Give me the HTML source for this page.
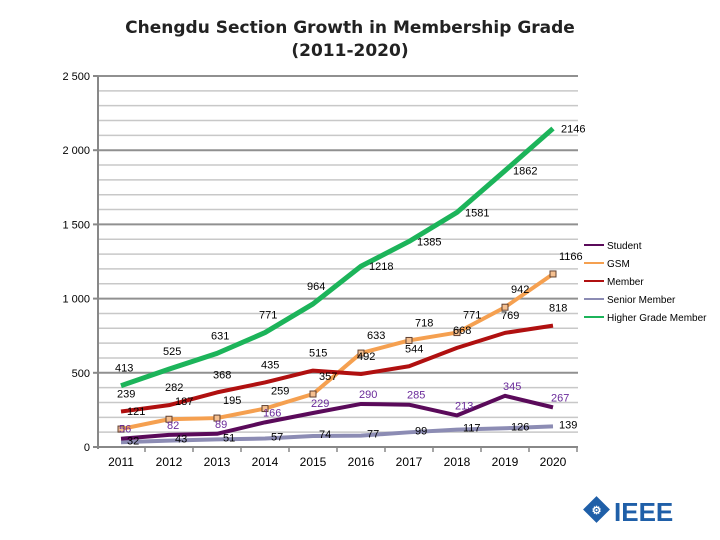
<!DOCTYPE html>
<html><head><meta charset="utf-8"><style>
body{margin:0;background:#fff;}
svg{display:block;font-family:"Liberation Sans",Arial,sans-serif;}
</style></head><body>
<svg id="c" width="720" height="540">
<text x="350" y="33" text-anchor="middle" font-family="DejaVu Sans, sans-serif" font-weight="bold" font-size="17" fill="#222">Chengdu Section Growth in Membership Grade</text>
<text x="350" y="56" text-anchor="middle" font-family="DejaVu Sans, sans-serif" font-weight="bold" font-size="17" fill="#222">(2011-2020)</text>
<g id="grid"></g><g id="lines"></g><g id="labels"></g><g id="legend"></g>
<g>
<rect x="587" y="500" width="19" height="19" transform="rotate(45 596.5 509.5)" fill="#1f5fa8"/>
<text x="596.5" y="514" text-anchor="middle" font-size="11" font-weight="bold" fill="#fff">⚙</text>
<text x="614" y="521" font-size="26" font-weight="bold" fill="#1f5fa8">IEEE</text>
</g>
</svg>
<script>
const years=["2011","2012","2013","2014","2015","2016","2017","2018","2019","2020"];
const student=[56,82,89,166,229,290,285,213,345,267];
const gsm=[121,187,195,259,357,633,718,771,942,1166];
const member=[239,282,368,435,515,492,544,668,769,818];
const senior=[32,43,51,57,74,77,99,117,126,139];
const higher=[413,525,631,771,964,1218,1385,1581,1862,2146];
const yTicks=[0,500,1000,1500,2000,2500];
const yTickLabels=["0","500","1 000","1 500","2 000","2 500"];
const NS="http://www.w3.org/2000/svg";
const X0=121,DX=48,Y0=447,YS=(447-76)/2500;
const xs=i=>X0+i*DX, ys=v=>Y0-v*YS;
function el(t,a,p){const e=document.createElementNS(NS,t);for(const k in a)e.setAttribute(k,a[k]);p.appendChild(e);return e;}
const grid=document.getElementById('grid');
for(let v=100;v<=2500;v+=100){
 const g=el('line',{x1:98,x2:578,y1:ys(v),y2:ys(v),stroke:v%500?'#c8c8c8':'#909090','stroke-width':v%500?1.5:2},grid);
 
 
}
yTicks.forEach((v,i)=>{
 const t=el('line',{x1:93,x2:98,y1:ys(v),y2:ys(v),stroke:'#888','stroke-width':2},grid);
 
 
 const l=el('text',{x:90,y:ys(v)+4,'text-anchor':'end','font-size':11,fill:'#000'},grid);l.textContent=yTickLabels[i];
 
 
});
const ax=el('line',{x1:98,x2:98,y1:76,y2:449,stroke:'#888','stroke-width':2},grid);


const bx=el('line',{x1:98,x2:578,y1:Y0,y2:Y0,stroke:'#888','stroke-width':2},grid);


years.forEach((y,i)=>{
 const t=el('line',{x1:xs(i)+24,x2:xs(i)+24,y1:Y0,y2:Y0+5,stroke:'#888','stroke-width':1.5},grid);
 
 
 const l=el('text',{x:xs(i),y:466,'text-anchor':'middle','font-size':12,fill:'#000'},grid);l.textContent=y;
 
 
});
const series=[
 {name:'senior',lab:'Senior Member',d:senior,c:'#8c8cb4',w:4,lc:'#000',dx:6,dy:2},
 {name:'student',lab:'Student',d:student,c:'#5a0a5a',w:4,lc:'#6a2a9a',dx:-2,dy:-6},
 {name:'gsm',lab:'GSM',d:gsm,c:'#f5a050',w:4,lc:'#000',dx:6,dy:-14},
 {name:'member',lab:'Member',d:member,c:'#b01010',w:4,lc:'#000',dx:-4,dy:-14},
 {name:'higher',lab:'Higher Grade Member',d:higher,c:'#1cb45a',w:5,lc:'#000',dx:8,dy:4}];
const lines=document.getElementById('lines'),labels=document.getElementById('labels');
series.forEach(s=>{
 const p=el('polyline',{points:s.d.map((v,i)=>xs(i)+','+ys(v)).join(' '),fill:'none',stroke:s.c,'stroke-width':s.w,'stroke-linejoin':'round'},lines);
 
 
 s.d.forEach((v,i)=>{
  if(s.name==='gsm'){const m=el('rect',{x:xs(i)-3,y:ys(v)-3,width:6,height:6,fill:'#f5c090',stroke:'#604030'},lines);
   
   }
  let dx=s.dx,dy=s.dy;
  if(s.name==='higher'&&i<5){dx=-6;dy=-14;}
  const t=el('text',{x:xs(i)+dx,y:ys(v)+dy,'font-size':11,fill:s.lc},labels);t.textContent=v;
  
  
 });
});
const lg=document.getElementById('legend');
const order=['student','gsm','member','senior','higher'];
order.forEach((n,i)=>{
 const s=series.find(q=>q.name===n);const y=245+i*18;
 const l=el('line',{x1:584,x2:604,y1:y,y2:y,stroke:s.c,'stroke-width':2},lg);
 
 
 const t=el('text',{x:607,y:y+4,'font-size':10,fill:'#000'},lg);t.textContent=s.lab;
 
 
});
</script>
</body></html>
